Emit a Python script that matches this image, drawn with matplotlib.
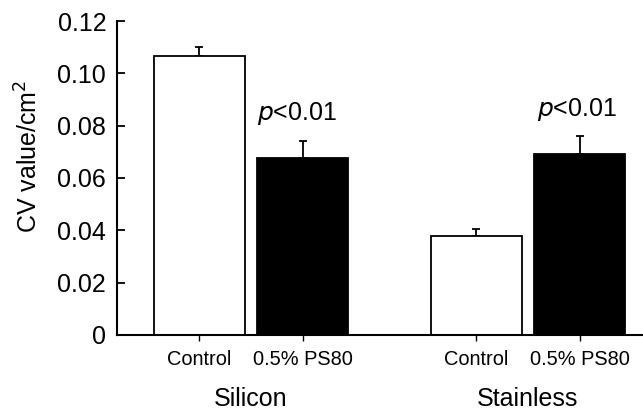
import matplotlib
matplotlib.use("Agg")
import matplotlib.pyplot as plt
from matplotlib import transforms

plt.rcParams['font.family'] = ['Liberation Sans', 'DejaVu Sans']

# data
groups = ["Silicon", "Stainless"]
treat_labels = ["Control", "0.5% PS80", "Control", "0.5% PS80"]
means = [0.1067, 0.0675, 0.0378, 0.0692]
errs = [0.0035, 0.0068, 0.0026, 0.0069]
colors = ["white", "black", "white", "black"]
pvals = ["<0.01", "<0.01"]

positions = [1.0, 2.0, 3.685, 4.685]
group_centers = [1.5, 4.185]

fig = plt.figure(figsize=(6.43, 4.12), dpi=100)
ax = fig.add_axes([0.1825, 0.187, 0.8175, 0.762])

ax.bar(positions, means, width=0.875, color=colors, edgecolor="black",
       linewidth=1.3, zorder=2)
ax.errorbar(positions, means, yerr=[[0] * 4, errs], fmt="none",
            ecolor="black", elinewidth=1.3, capsize=3, capthick=1.3, zorder=1)

# p-value labels above the PS80 bars
for i, pv, dx in zip([1, 3], pvals, [-0.05, -0.025]):
    ax.text(positions[i] + dx, means[i] + errs[i] + 0.0050, r"$\it{p}$" + pv,
            ha="center", va="bottom", fontsize=18)

ax.set_xlim(0.204, 5.3)
ax.set_ylim(0, 0.12)
ax.set_yticks([0, 0.02, 0.04, 0.06, 0.08, 0.10, 0.12])
ax.set_yticklabels(["0", "0.02", "0.04", "0.06", "0.08", "0.10", "0.12"])
ax.set_xticks(positions)
ax.set_xticklabels(treat_labels, fontsize=14.4)

ax.tick_params(axis="y", direction="in", length=6, width=1.3, labelsize=18, pad=8)
ax.tick_params(axis="x", direction="out", length=4, width=1.0, pad=7)

for side in ["top", "right"]:
    ax.spines[side].set_visible(False)
for side in ["left", "bottom"]:
    ax.spines[side].set_linewidth(1.5)

ax.set_ylabel("CV value/cm$^2$", fontsize=18)
ax.yaxis.set_label_coords(-0.142, 0.57)

trans = transforms.blended_transform_factory(ax.transData, ax.transAxes)
for g, xc in zip(groups, group_centers):
    ax.text(xc, -0.205, g, ha="center", va="center", fontsize=18, transform=trans)

fig.savefig("out.png", dpi=100)
